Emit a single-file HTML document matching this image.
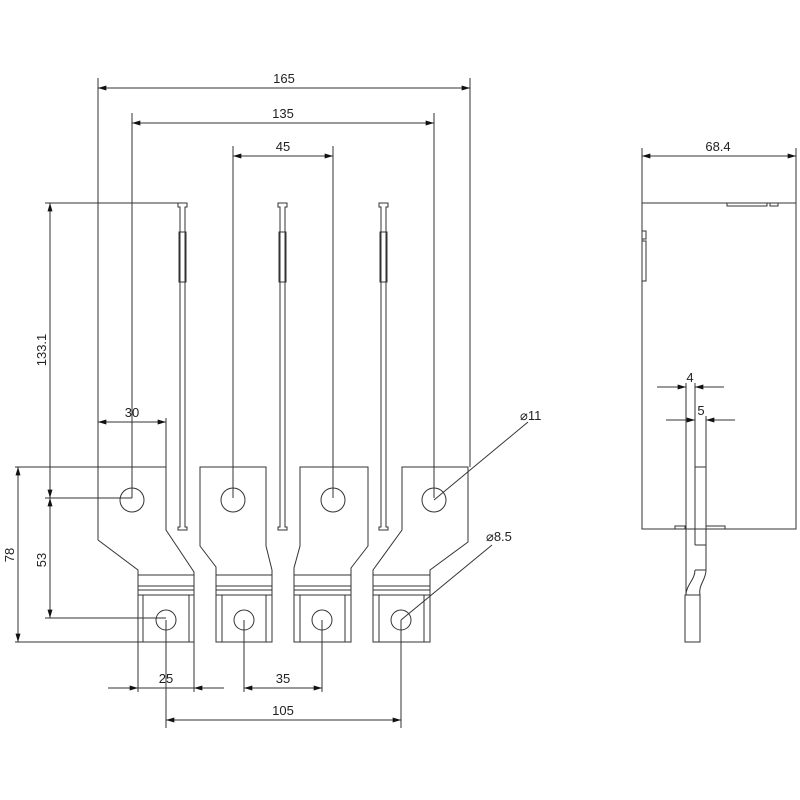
<!DOCTYPE html>
<html><head><style>body{margin:0;background:#fff}svg{display:block}text{font-family:"Liberation Sans",sans-serif;font-size:13px;fill:#222}</style></head>
<body>
<svg width="800" height="800" viewBox="0 0 800 800" xmlns="http://www.w3.org/2000/svg">
<defs>
<marker id="a" viewBox="0 0 10 6" refX="10" refY="3" markerWidth="12" markerHeight="5" orient="auto-start-reverse" markerUnits="userSpaceOnUse"><path d="M0,0L10,3L0,6z" fill="#111"/></marker>
</defs>
<g stroke="#333" stroke-width="1" fill="none">
<!-- extension lines -->
<line x1="98" y1="78" x2="98" y2="540"/>
<line x1="470" y1="78" x2="470" y2="467"/>
<line x1="132" y1="113" x2="132" y2="498"/>
<line x1="434" y1="113" x2="434" y2="498"/>
<line x1="233" y1="146" x2="233" y2="498"/>
<line x1="333" y1="146" x2="333" y2="498"/>
<!-- dims top -->
<line x1="98" y1="88" x2="470" y2="88" marker-start="url(#a)" marker-end="url(#a)"/>
<line x1="132" y1="123" x2="434" y2="123" marker-start="url(#a)" marker-end="url(#a)"/>
<line x1="233" y1="156" x2="333" y2="156" marker-start="url(#a)" marker-end="url(#a)"/>
<!-- left dims -->
<line x1="45" y1="203" x2="180" y2="203"/>
<line x1="45" y1="498" x2="132" y2="498"/>
<line x1="45" y1="618" x2="166" y2="618"/>
<line x1="15" y1="467" x2="166" y2="467"/>
<line x1="15" y1="642" x2="138" y2="642"/>
<line x1="50" y1="203" x2="50" y2="498" marker-start="url(#a)" marker-end="url(#a)"/>
<line x1="50" y1="498" x2="50" y2="618" marker-start="url(#a)" marker-end="url(#a)"/>
<line x1="18" y1="467" x2="18" y2="642" marker-start="url(#a)" marker-end="url(#a)"/>
<line x1="166" y1="418" x2="166" y2="467"/>
<line x1="98" y1="422" x2="166" y2="422" marker-start="url(#a)" marker-end="url(#a)"/>
<!-- rods -->
<g>
<path d="M178,203h9v4h-2v320h2v3h-9v-3h2v-320h-2z"/>
<rect x="179" y="232" width="7" height="50"/>
<path d="M278,203h9v4h-2v320h2v3h-9v-3h2v-320h-2z"/>
<rect x="279" y="232" width="7" height="50"/>
<path d="M379,203h9v4h-2v320h2v3h-9v-3h2v-320h-2z"/>
<rect x="380" y="232" width="7" height="50"/>
</g>
<!-- plates -->
<path d="M98,467H166V530L194,572V642M98,540L138,570V642"/>
<path d="M200,467H266V546L272,570V642H216V567L200,546Z"/>
<path d="M300,467H368V546L351,568V642H294V568L300,546Z"/>
<path d="M402,467H468V542L430,570V642H373V570L402,530Z"/>
<g>
<line x1="138" y1="642" x2="194" y2="642"/>
<path d="M138,575H194M138,586H194M138,590H194M138,595H194M143,595V642M189,595V642"/>
<path d="M216,575H272M216,586H272M216,590H272M216,595H272M222,595V642M266,595V642"/>
<path d="M294,575H351M294,586H351M294,590H351M294,595H351M300,595V642M345,595V642"/>
<path d="M373,575H430M373,586H430M373,590H430M373,595H430M379,595V642M424,595V642"/>
</g>
<circle cx="132" cy="500" r="12"/><circle cx="233" cy="500" r="12"/><circle cx="333" cy="500" r="12"/><circle cx="434" cy="500" r="12"/>
<circle cx="166" cy="620" r="10"/><circle cx="244" cy="620" r="10"/><circle cx="322" cy="620" r="10"/><circle cx="401" cy="620" r="10"/>
<!-- bottom dims -->
<line x1="138" y1="642" x2="138" y2="692"/>
<line x1="194" y1="642" x2="194" y2="692"/>
<line x1="166" y1="620" x2="166" y2="728"/>
<line x1="244" y1="620" x2="244" y2="692"/>
<line x1="322" y1="620" x2="322" y2="692"/>
<line x1="401" y1="620" x2="401" y2="728"/>
<line x1="108" y1="688" x2="138" y2="688" marker-end="url(#a)"/>
<line x1="224" y1="688" x2="194" y2="688" marker-end="url(#a)"/>
<line x1="138" y1="688" x2="194" y2="688"/>
<line x1="244" y1="688" x2="322" y2="688" marker-start="url(#a)" marker-end="url(#a)"/>
<line x1="166" y1="720" x2="401" y2="720" marker-start="url(#a)" marker-end="url(#a)"/>
<!-- leaders -->
<line x1="434" y1="500" x2="528" y2="422"/>
<line x1="401" y1="620" x2="492" y2="545"/>
<!-- side view -->
<line x1="642" y1="148" x2="642" y2="203"/>
<line x1="796" y1="148" x2="796" y2="203"/>
<line x1="642" y1="156" x2="796" y2="156" marker-start="url(#a)" marker-end="url(#a)"/>
<rect x="642" y="203" width="154" height="326"/>
<rect x="727" y="203" width="40" height="3"/>
<rect x="770" y="203" width="8" height="3"/>
<rect x="642" y="231" width="4" height="8"/>
<rect x="642" y="241" width="4" height="40"/>
<rect x="675" y="526" width="10" height="3"/>
<rect x="706" y="526" width="19" height="3"/>
<line x1="686" y1="383" x2="686" y2="595"/>
<line x1="695" y1="383" x2="695" y2="545"/>
<line x1="706" y1="416" x2="706" y2="570"/>
<path d="M695,467H706M695,545H706M695,570H706"/>
<path d="M686,595C686,585 695,580 695,570M700,595C698,585 706,580 706,570"/>
<rect x="685" y="595" width="15" height="47"/>
<line x1="657" y1="387" x2="686" y2="387" marker-end="url(#a)"/>
<line x1="724" y1="387" x2="695" y2="387" marker-end="url(#a)"/>
<line x1="666" y1="420" x2="695" y2="420" marker-end="url(#a)"/>
<line x1="735" y1="420" x2="706" y2="420" marker-end="url(#a)"/>
</g>
<text x="284" y="83" text-anchor="middle">165</text>
<text x="283" y="118" text-anchor="middle">135</text>
<text x="283" y="151" text-anchor="middle">45</text>
<text x="132" y="417" text-anchor="middle">30</text>
<text transform="translate(46,350) rotate(-90)" text-anchor="middle">133.1</text>
<text transform="translate(46,560) rotate(-90)" text-anchor="middle">53</text>
<text transform="translate(14,555) rotate(-90)" text-anchor="middle">78</text>
<text x="166" y="683" text-anchor="middle">25</text>
<text x="283" y="683" text-anchor="middle">35</text>
<text x="283" y="715" text-anchor="middle">105</text>
<text x="520" y="420">⌀11</text>
<text x="486" y="541">⌀8.5</text>
<text x="718" y="151" text-anchor="middle">68.4</text>
<text x="690" y="382" text-anchor="middle">4</text>
<text x="701" y="415" text-anchor="middle">5</text>
</svg>
</body></html>
